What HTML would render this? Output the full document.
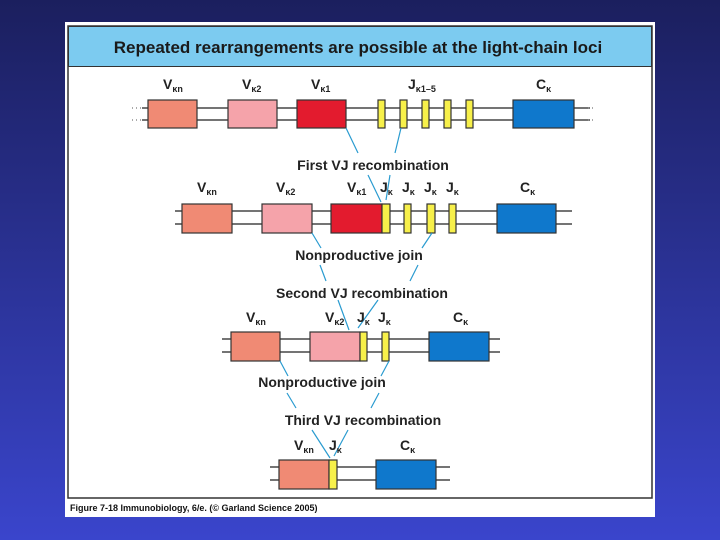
<!DOCTYPE html>
<html><head><meta charset="utf-8"><style>
html,body{margin:0;padding:0;width:720px;height:540px;overflow:hidden}
svg{display:block}
text{font-family:"Liberation Sans",Arial,sans-serif}
</style></head><body>
<svg width="720" height="540" viewBox="0 0 720 540" xmlns="http://www.w3.org/2000/svg">
<defs>
<linearGradient id="bg" x1="0" y1="0" x2="0" y2="1">
<stop offset="0" stop-color="#1b1f5e"/><stop offset="1" stop-color="#3a45cc"/>
</linearGradient>
</defs>
<rect width="720" height="540" fill="url(#bg)"/>
<rect x="65" y="22" width="590" height="495" fill="#fff"/>
<rect x="68" y="26" width="584" height="472" fill="#fff" stroke="#333" stroke-width="1.5"/>
<rect x="68.5" y="26.5" width="583" height="40" fill="#7ccbf0" stroke="#333" stroke-width="1"/>
<text x="358" y="53" font-size="17" font-weight="bold" text-anchor="middle" fill="#1a1a1a">Repeated rearrangements are possible at the light-chain loci</text>

<g stroke="#222" stroke-width="1.3" fill="none">
<path d="M142 108H590M142 120H590"/>
<path d="M175 211H572M175 224H572"/>
<path d="M222 339H500M222 352H500"/>
<path d="M270 467H450M270 480H450"/>
</g>
<g stroke="#555" stroke-width="1" stroke-dasharray="1,3">
<path d="M132 108h10M132 120h10M588 108h6M588 120h6"/>
</g>

<g stroke="#333" stroke-width="1.2">
<rect x="148" y="100" width="49" height="28" fill="#f08a74"/>
<rect x="228" y="100" width="49" height="28" fill="#f5a3aa"/>
<rect x="297" y="100" width="49" height="28" fill="#e31b2e"/>
<rect x="378" y="100" width="7" height="28" fill="#f7f04a"/>
<rect x="400" y="100" width="7" height="28" fill="#f7f04a"/>
<rect x="422" y="100" width="7" height="28" fill="#f7f04a"/>
<rect x="444" y="100" width="7" height="28" fill="#f7f04a"/>
<rect x="466" y="100" width="7" height="28" fill="#f7f04a"/>
<rect x="513" y="100" width="61" height="28" fill="#0f78cc"/>
<rect x="182" y="204" width="50" height="29" fill="#f08a74"/>
<rect x="262" y="204" width="50" height="29" fill="#f5a3aa"/>
<rect x="331" y="204" width="51" height="29" fill="#e31b2e"/>
<rect x="382" y="204" width="8" height="29" fill="#f7f04a"/>
<rect x="404" y="204" width="7" height="29" fill="#f7f04a"/>
<rect x="427" y="204" width="8" height="29" fill="#f7f04a"/>
<rect x="449" y="204" width="7" height="29" fill="#f7f04a"/>
<rect x="497" y="204" width="59" height="29" fill="#0f78cc"/>
<rect x="231" y="332" width="49" height="29" fill="#f08a74"/>
<rect x="310" y="332" width="50" height="29" fill="#f5a3aa"/>
<rect x="360" y="332" width="7" height="29" fill="#f7f04a"/>
<rect x="382" y="332" width="7" height="29" fill="#f7f04a"/>
<rect x="429" y="332" width="60" height="29" fill="#0f78cc"/>
<rect x="279" y="460" width="50" height="29" fill="#f08a74"/>
<rect x="329" y="460" width="8" height="29" fill="#f7f04a"/>
<rect x="376" y="460" width="60" height="29" fill="#0f78cc"/>
</g>

<g stroke="#2a9bd0" stroke-width="1.2" fill="none">
<path d="M346 128L358 153M401 128L395 153"/>
<path d="M368 175L381 202M390 175L386 200"/>
<path d="M312 233L321 248M432 233L422 248"/>
<path d="M320 265L326 281M418 265L410 281"/>
<path d="M338 300L349 330M378 300L358 328"/>
<path d="M280 361L288 376M389 361L381 376"/>
<path d="M287 393L296 408M379 393L371 408"/>
<path d="M312 430L330 458M348 430L334 456"/>
</g>

<g font-size="14" font-weight="bold" fill="#222" text-anchor="middle">
<text x="373" y="170">First VJ recombination</text>
<text x="359" y="260">Nonproductive join</text>
<text x="362" y="298">Second VJ recombination</text>
<text x="322" y="387">Nonproductive join</text>
<text x="363" y="425">Third VJ recombination</text>
</g>

<g font-size="14" font-weight="bold" fill="#222">
<text x="163" y="89">V<tspan font-size="9" dy="3">κn</tspan></text>
<text x="242" y="89">V<tspan font-size="9" dy="3">κ2</tspan></text>
<text x="311" y="89">V<tspan font-size="9" dy="3">κ1</tspan></text>
<text x="408" y="89">J<tspan font-size="9" dy="3">κ1–5</tspan></text>
<text x="536" y="89">C<tspan font-size="9" dy="3">κ</tspan></text>
<text x="197" y="192">V<tspan font-size="9" dy="3">κn</tspan></text>
<text x="276" y="192">V<tspan font-size="9" dy="3">κ2</tspan></text>
<text x="347" y="192">V<tspan font-size="9" dy="3">κ1</tspan></text>
<text x="380" y="192">J<tspan font-size="9" dy="3">κ</tspan></text>
<text x="402" y="192">J<tspan font-size="9" dy="3">κ</tspan></text>
<text x="424" y="192">J<tspan font-size="9" dy="3">κ</tspan></text>
<text x="446" y="192">J<tspan font-size="9" dy="3">κ</tspan></text>
<text x="520" y="192">C<tspan font-size="9" dy="3">κ</tspan></text>
<text x="246" y="322">V<tspan font-size="9" dy="3">κn</tspan></text>
<text x="325" y="322">V<tspan font-size="9" dy="3">κ2</tspan></text>
<text x="357" y="322">J<tspan font-size="9" dy="3">κ</tspan></text>
<text x="378" y="322">J<tspan font-size="9" dy="3">κ</tspan></text>
<text x="453" y="322">C<tspan font-size="9" dy="3">κ</tspan></text>
<text x="294" y="450">V<tspan font-size="9" dy="3">κn</tspan></text>
<text x="329" y="450">J<tspan font-size="9" dy="3">κ</tspan></text>
<text x="400" y="450">C<tspan font-size="9" dy="3">κ</tspan></text>
</g>

<text x="70" y="511" font-size="9" font-weight="bold" fill="#111">Figure 7-18  Immunobiology, 6/e. (© Garland Science 2005)</text>
</svg>
</body></html>
